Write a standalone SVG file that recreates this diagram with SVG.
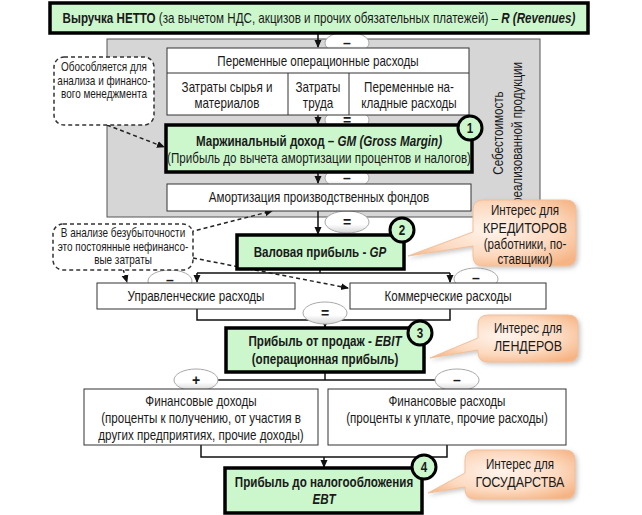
<svg xmlns="http://www.w3.org/2000/svg" width="642" height="515" viewBox="0 0 642 515">
<defs>
<style>
text{font-family:"Liberation Sans",Arial,sans-serif;fill:#1a1a1a;font-size:14px;text-anchor:middle}
.s{font-size:12px}
.m{font-size:14px}
.L{font-size:15px}
.b{font-weight:bold}
.i{font-style:italic}
.grn{fill:#ccf7cc;stroke:#000;stroke-width:3.5}
.wb{fill:#fff;stroke:#333;stroke-width:1}
.ln{fill:none;stroke:#111;stroke-width:1.5}
.dash{fill:none;stroke:#222;stroke-width:1.5;stroke-dasharray:4 3}
.dbox{fill:#fff;stroke:#333;stroke-width:1.5;stroke-dasharray:4 3}
.ov{fill:url(#ovg);stroke:#a8a8a8;stroke-width:1}
.ovt{font-size:14px;font-weight:bold}
.num{fill:#ccf7cc;stroke:#000;stroke-width:3}
.call{fill:url(#org);stroke:#f2c09a;stroke-width:1;filter:url(#sh)}
</style>
<marker id="a" markerWidth="8" markerHeight="8" refX="7" refY="4" orient="auto" markerUnits="userSpaceOnUse"><path d="M0,0.5 L8,4 L0,7.5 z" fill="#111"/></marker>
<linearGradient id="ovg" x1="0" y1="0" x2="0" y2="1"><stop offset="0" stop-color="#fff"/><stop offset="0.6" stop-color="#fff"/><stop offset="1" stop-color="#d4d4d4"/></linearGradient>
<radialGradient id="org" cx="0.5" cy="0.45" r="0.65"><stop offset="0" stop-color="#fff4ec"/><stop offset="0.6" stop-color="#fcd9bf"/><stop offset="1" stop-color="#f6b383"/></radialGradient>
<filter id="sh" x="-20%" y="-20%" width="140%" height="140%"><feDropShadow dx="2" dy="2" stdDeviation="2" flood-color="#888" flood-opacity="0.45"/></filter>
</defs>
<rect x="0" y="0" width="642" height="515" fill="#fff"/>

<g id="cost-panel">
<rect x="107" y="39" width="433" height="178" fill="#d6d6d6" stroke="#555" stroke-width="1"/>
<text transform="translate(503,133) rotate(-90) scale(.83,1)">Себестоимость</text>
<text transform="translate(522,133) rotate(-90) scale(.83,1)">реализованной продукции</text>
</g>

<g id="connectors">
<line class="ln" x1="318" y1="33" x2="318" y2="47" marker-end="url(#a)"/>
<line class="ln" x1="318" y1="115" x2="318" y2="124" marker-end="url(#a)"/>
<line class="ln" x1="318" y1="172" x2="318" y2="183" marker-end="url(#a)"/>
<line class="ln" x1="318" y1="211" x2="318" y2="234" marker-end="url(#a)"/>
<polyline class="ln" points="320,269 320,273"/>
<polyline class="ln" points="197,273 450,273"/>
<line class="ln" x1="197" y1="273" x2="197" y2="282" marker-end="url(#a)"/>
<line class="ln" x1="450" y1="273" x2="450" y2="282" marker-end="url(#a)"/>
<polyline class="ln" points="197,309 197,320 450,320 450,309"/>
<line class="ln" x1="325" y1="320" x2="325" y2="327" marker-end="url(#a)"/>
<polyline class="ln" points="325,372 325,380"/>
<polyline class="ln" points="200,380 457,380"/>
<polyline class="ln" points="201,445 201,457 447,457 447,445"/>
<line class="ln" x1="324" y1="457" x2="324" y2="467" marker-end="url(#a)"/>
<path class="dash" d="M107,125 L164,147" marker-end="url(#a)"/>
<path class="dash" d="M190,232 L272,211" marker-end="url(#a)"/>
<path class="dash" d="M123,269 L127,282" marker-end="url(#a)"/>
<path class="dash" d="M193,258 L348,288" marker-end="url(#a)"/>
<ellipse class="ov" cx="347" cy="43" rx="22" ry="11"/><text class="ovt" x="347" y="48">–</text>
<ellipse class="ov" cx="347" cy="120" rx="22" ry="11"/><text class="ovt" x="347" y="125">=</text>
<ellipse class="ov" cx="347" cy="178" rx="22" ry="11"/><text class="ovt" x="347" y="183">–</text>
<ellipse class="ov" cx="347" cy="222" rx="22" ry="11"/><text class="ovt" x="347" y="227">=</text>
<ellipse class="ov" cx="170" cy="281" rx="22" ry="11"/><text class="ovt" x="170" y="285">–</text>
<ellipse class="ov" cx="476" cy="279" rx="22" ry="11"/><text class="ovt" x="476" y="283">–</text>
<ellipse class="ov" cx="325" cy="313" rx="22" ry="11"/><text class="ovt" x="325" y="318">=</text>
<ellipse class="ov" cx="196" cy="380" rx="22" ry="11"/><text class="ovt" x="196" y="385">+</text>
<ellipse class="ov" cx="457" cy="380" rx="22" ry="11"/><text class="ovt" x="457" y="385">–</text>
</g>

<g id="revenue">
<rect class="grn" x="50" y="3" width="538" height="30"/>
<text transform="translate(319,23) scale(.83,1)"><tspan class="b">Выручка НЕТТО</tspan> (за вычетом НДС, акцизов и прочих обязательных платежей) – <tspan class="b i">R (Revenues)</tspan></text>
</g>

<g id="variable-costs">
<rect class="wb" x="167" y="48" width="302" height="67"/>
<line stroke="#333" x1="167" y1="73" x2="469" y2="73"/>
<line stroke="#333" x1="288" y1="73" x2="288" y2="115"/>
<line stroke="#333" x1="349" y1="73" x2="349" y2="115"/>
<text transform="translate(318,66) scale(.83,1)">Переменные операционные расходы</text>
<text transform="translate(227,92) scale(.83,1)">Затраты сырья и</text>
<text transform="translate(227,108) scale(.83,1)">материалов</text>
<text transform="translate(318,92) scale(.83,1)">Затраты</text>
<text transform="translate(318,108) scale(.83,1)">труда</text>
<text transform="translate(409,92) scale(.83,1)">Переменные на-</text>
<text transform="translate(409,108) scale(.83,1)">кладные расходы</text>
</g>

<g id="gross-margin">
<rect class="grn" x="166" y="125" width="306" height="47"/>
<text class="b" transform="translate(319,146) scale(.83,1)">Маржинальный доход – <tspan class="i">GM (Gross Margin)</tspan></text>
<text transform="translate(319,163) scale(.83,1)">(Прибыль до вычета амортизации процентов и налогов)</text>
<circle class="num" cx="470" cy="128" r="12"/>
<text class="b" transform="translate(470,133) scale(.83,1)">1</text>
</g>

<g id="depreciation">
<rect class="wb" x="167" y="184" width="304" height="27"/>
<text transform="translate(319,202) scale(.83,1)">Амортизация производственных фондов</text>
</g>

<g id="gross-profit">
<rect class="grn" x="237" y="235" width="167" height="34"/>
<text class="b" transform="translate(320,257) scale(.83,1)">Валовая прибыль - <tspan class="i">GP</tspan></text>
<circle class="num" cx="402" cy="230" r="12"/>
<text class="b" transform="translate(402,235) scale(.83,1)">2</text>
</g>

<g id="admin-costs">
<rect class="wb" x="97" y="283" width="198" height="26"/>
<text transform="translate(196,301) scale(.83,1)">Управленческие расходы</text>
</g>

<g id="selling-costs">
<rect class="wb" x="350" y="283" width="196" height="26"/>
<text transform="translate(448,301) scale(.83,1)">Коммерческие расходы</text>
</g>

<g id="ebit">
<rect class="grn" x="226" y="328" width="198" height="44"/>
<text class="b" transform="translate(325,346) scale(.83,1)">Прибыль от продаж - <tspan class="i">EBIT</tspan></text>
<text class="b" transform="translate(325,364) scale(.83,1)">(операционная прибыль)</text>
<circle class="num" cx="420" cy="333" r="12"/>
<text class="b" transform="translate(420,338) scale(.83,1)">3</text>
</g>

<g id="fin-income">
<rect class="wb" x="84" y="389" width="234" height="56"/>
<text transform="translate(201,406) scale(.83,1)">Финансовые доходы</text>
<text transform="translate(201,423) scale(.83,1)">(проценты к получению, от участия в</text>
<text transform="translate(201,440) scale(.83,1)">других предприятиях, прочие доходы)</text>
</g>

<g id="fin-expense">
<rect class="wb" x="328" y="389" width="238" height="56"/>
<text transform="translate(447,406) scale(.83,1)">Финансовые расходы</text>
<text transform="translate(447,423) scale(.83,1)">(проценты к уплате, прочие расходы)</text>
</g>

<g id="ebt">
<rect class="grn" x="225" y="468" width="197" height="45"/>
<text class="b" transform="translate(324,487) scale(.83,1)">Прибыль до налогообложения</text>
<text class="b i" transform="translate(324,504) scale(.83,1)">EBT</text>
<circle class="num" cx="424" cy="467" r="12"/>
<text class="b" transform="translate(424,472) scale(.83,1)">4</text>
</g>

<g id="note-analysis">
<rect class="dbox" x="54" y="57" width="100" height="68" rx="10"/>
<text class="s" transform="translate(104,71) scale(.83,1)">Обособляется для</text>
<text class="s" transform="translate(104,85) scale(.83,1)">анализа и финансо-</text>
<text class="s" transform="translate(104,98) scale(.83,1)">вого менеджмента</text>
</g>

<g id="note-breakeven">
<rect class="dbox" x="53" y="224" width="140" height="46" rx="10"/>
<text class="s" transform="translate(123,237) scale(.83,1)">В анализе безубыточности</text>
<text class="s" transform="translate(123,251) scale(.83,1)">это постоянные нефинансо-</text>
<text class="s" transform="translate(123,264) scale(.83,1)">вые затраты</text>
</g>

<g id="interest-creditors">
<path class="call" d="M483,200 H566 Q576,200 576,210 V256 Q576,266 566,266 H483 Q473,266 473,256 V246 L408,256 L473,232 V210 Q473,200 483,200 Z"/>
<text class="m" transform="translate(525,215) scale(.83,1)">Интерес для</text>
<text class="L" transform="translate(525,233) scale(.83,1)">КРЕДИТОРОВ</text>
<text class="m" transform="translate(525,249) scale(.83,1)">(работники, по-</text>
<text class="m" transform="translate(525,264) scale(.83,1)">ставщики)</text>
</g>

<g id="interest-lenders">
<path class="call" d="M488,315 H568 Q578,315 578,325 V352 Q578,362 568,362 H488 Q478,362 478,352 V350 L430,358 L478,338 V325 Q478,315 488,315 Z"/>
<text class="m" transform="translate(528,333) scale(.83,1)">Интерес для</text>
<text class="L" transform="translate(528,351) scale(.83,1)">ЛЕНДЕРОВ</text>
</g>

<g id="interest-state">
<path class="call" d="M475,450 H565 Q575,450 575,460 V489 Q575,499 565,499 H475 Q465,499 465,489 V487 L428,493 L465,473 V460 Q465,450 475,450 Z"/>
<text class="m" transform="translate(520,469) scale(.83,1)">Интерес для</text>
<text class="L" transform="translate(520,487) scale(.83,1)">ГОСУДАРСТВА</text>
</g>
</svg>
